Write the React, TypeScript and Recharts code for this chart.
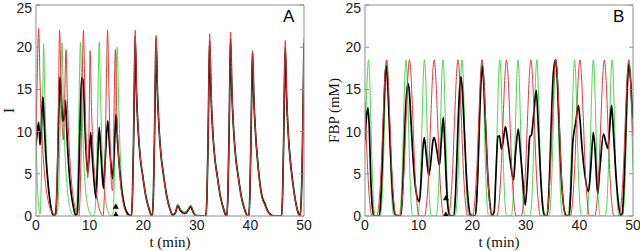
import { ComposedChart, Line, Scatter, XAxis, YAxis } from 'recharts';

type Pt = [number, number];

const T_TICKS = [0, 10, 20, 30, 40, 50];
const Y_TICKS = [0, 5, 10, 15, 20, 25];

// Panel A: I
const aRed: Pt[] = [
  [0, 8], [0.25, 17], [0.5, 22.2], [0.75, 16], [1.0, 11], [1.4, 6.5], [1.9, 3.2], [2.5, 1.2], [3.1, 0.3], [3.6, 0],
  [3.85, 2], [4.05, 8], [4.25, 17], [4.4, 22], [4.65, 16], [4.9, 10.5], [5.1, 9], [5.3, 12.5], [5.6, 19.7], [5.85, 14],
  [6.1, 9.5], [6.5, 5], [7.0, 2], [7.6, 0.4], [8.0, 0],
  [8.2, 2], [8.45, 9], [8.65, 17], [8.85, 22], [9.1, 15.5], [9.4, 8], [9.65, 4.5], [9.8, 6.5], [9.95, 13], [10.1, 19.6],
  [10.35, 13], [10.6, 8.5], [11.0, 4.5], [11.5, 1.8], [12.1, 0.3], [12.5, 0],
  [12.75, 2.5], [12.95, 9], [13.15, 17], [13.36, 22], [13.6, 15], [13.85, 8], [14.1, 3.5], [14.3, 3], [14.45, 7], [14.6, 14],
  [14.8, 19.7], [15.05, 13], [15.3, 8.5], [15.7, 4.5], [16.2, 1.8], [16.8, 0.4], [17.3, 0],
  [17.8, 0], [18.0, 2.5], [18.2, 9], [18.35, 16], [18.5, 22], [18.75, 15], [19.05, 10.5], [19.45, 7], [19.9, 4.8], [20.5, 2.3], [21.1, 0.8], [21.6, 0],
  [21.7, 0], [21.9, 2.5], [22.1, 9], [22.25, 16], [22.4, 21.4], [22.65, 15], [22.95, 10.5], [23.35, 7], [23.8, 4.8], [24.4, 2.3], [25.0, 0.8],
  [25.5, 0.1], [26.0, 0.4], [26.45, 1.3], [27.0, 0.7], [27.8, 0.4], [28.4, 0.8], [28.85, 1.25], [29.3, 0.6], [29.8, 0.05], [31.7, 0],
  [31.9, 2.5], [32.1, 9], [32.25, 16], [32.4, 21.6], [32.65, 15], [32.95, 10.5], [33.35, 7], [33.8, 4.8], [34.4, 2.3], [35.0, 0.8], [35.5, 0],
  [35.6, 0], [35.8, 2.5], [36.0, 9], [36.15, 16], [36.3, 21.8], [36.55, 15], [36.85, 10.5], [37.25, 7], [37.7, 4.8], [38.3, 2.3], [38.9, 0.8], [39.5, 0],
  [39.7, 0], [39.9, 2.5], [40.1, 9], [40.25, 15], [40.4, 19.6], [40.65, 14], [40.95, 10], [41.35, 6.5], [41.8, 3.6], [42.2, 2.1], [42.7, 1.3],
  [43.2, 0.6], [43.8, 0.15], [44.4, 0],
  [45.8, 0], [46.0, 2.5], [46.2, 9], [46.35, 16], [46.5, 20.8], [46.75, 14.5], [47.05, 10], [47.45, 6.5], [47.9, 4], [48.4, 1.8], [48.9, 0.4],
  [49.25, 0], [49.45, 1.5], [49.65, 6], [49.85, 14], [50, 21],
];

const aBlack: Pt[] = [
  [0, 8.4], [0.25, 10], [0.5, 11.1], [0.75, 8.4], [0.95, 10], [1.15, 13], [1.3, 14.1], [1.5, 11.5], [1.8, 7.5], [2.2, 4.2],
  [2.6, 1.8], [3.0, 0.4], [3.4, 0], [3.7, 0.5], [3.95, 4], [4.2, 11], [4.4, 15.5], [4.5, 16.5], [4.7, 14.5], [5.0, 11.2],
  [5.2, 11.5], [5.5, 13.7], [5.75, 10], [6.1, 6], [6.5, 3], [7.0, 1], [7.4, 0.1], [7.7, 0.3], [7.95, 4], [8.2, 10.5],
  [8.45, 15.5], [8.6, 16.4], [8.85, 15.8], [9.1, 11], [9.4, 7], [9.65, 5.1], [9.9, 7], [10.2, 9.9], [10.5, 7], [10.85, 4],
  [11.2, 2.1], [11.45, 5.5], [11.8, 10.5], [12.1, 7.5], [12.4, 4.5], [12.6, 3.3], [12.9, 6.5], [13.4, 11.3], [13.7, 8.5],
  [14.0, 6], [14.3, 4.4], [14.6, 8], [14.95, 12], [15.2, 9], [15.6, 5.5], [16.0, 3], [16.5, 1.2], [17.1, 0.3], [17.6, 0.05],
  [17.8, 0], [18.0, 2.4], [18.2, 8.7], [18.35, 15.5], [18.5, 21.3], [18.75, 14.6], [19.05, 10.3], [19.45, 6.9], [19.9, 4.8], [20.5, 2.3], [21.1, 0.8], [21.6, 0],
  [21.7, 0], [21.9, 2.4], [22.1, 8.9], [22.25, 15.8], [22.4, 21.1], [22.65, 14.8], [22.95, 10.4], [23.35, 7], [23.8, 4.8], [24.4, 2.3], [25.0, 0.8],
  [25.5, 0.1], [26.0, 0.35], [26.45, 1.2], [27.0, 0.6], [27.8, 0.3], [28.4, 0.7], [28.85, 1.1], [29.3, 0.5], [29.8, 0.05], [31.7, 0],
  [31.9, 2.4], [32.1, 8.7], [32.25, 15.4], [32.4, 20.8], [32.65, 14.6], [32.95, 10.3], [33.35, 6.9], [33.8, 4.8], [34.4, 2.3], [35.0, 0.8], [35.5, 0],
  [35.6, 0], [35.8, 2.4], [36.0, 8.8], [36.15, 15.6], [36.3, 21], [36.55, 14.7], [36.85, 10.4], [37.25, 7], [37.7, 4.8], [38.3, 2.3], [38.9, 0.8], [39.5, 0],
  [39.7, 0], [39.9, 2.4], [40.1, 8.8], [40.25, 14.8], [40.4, 19.3], [40.65, 13.8], [40.95, 9.9], [41.35, 6.5], [41.8, 3.7], [42.2, 2.2], [42.7, 1.4],
  [43.2, 0.6], [43.8, 0.15], [44.4, 0],
  [45.8, 0], [46.0, 2.4], [46.2, 8.7], [46.35, 15.4], [46.5, 20], [46.75, 14.2], [47.05, 9.9], [47.45, 6.5], [47.9, 4], [48.4, 1.8], [48.9, 0.4],
  [49.25, 0], [49.45, 1.4], [49.65, 5.8], [49.85, 13.5], [50, 20.5],
];

const aGreen: Pt[] = [
  [0, 10], [0.2, 5], [0.45, 1.6], [0.75, 0.2], [0.95, 3], [1.15, 10], [1.3, 16], [1.42, 20.4], [1.65, 14], [1.9, 8.5],
  [2.2, 4.5], [2.6, 1.8], [3.1, 0.4], [3.6, 0.05],
  [4.0, 0.4], [4.25, 3.5], [4.45, 9], [4.65, 16], [4.85, 20.5], [5.1, 14], [5.35, 8.5], [5.7, 4.3], [6.1, 1.8], [6.6, 0.4], [7.1, 0],
  [7.5, 0.5], [7.75, 4], [7.95, 10], [8.1, 16], [8.3, 20.6], [8.55, 14], [8.8, 8.5], [9.1, 4.3], [9.5, 1.8], [10.0, 0.4], [10.6, 0],
  [11.0, 0.5], [11.25, 4], [11.45, 10], [11.6, 16], [11.8, 20.6], [12.05, 14], [12.3, 8.5], [12.6, 4.3], [13.0, 1.8], [13.5, 0.4], [14.0, 0],
  [14.4, 0.5], [14.6, 4], [14.8, 11], [14.95, 16], [15.15, 20], [15.4, 14], [15.65, 8.5], [15.95, 4.3], [16.35, 1.8], [16.8, 0.4], [17.3, 0],
  [17.8, 0], [18.0, 2.6], [18.2, 8.8], [18.35, 15.2], [18.5, 20.4], [18.75, 14.5], [19.05, 10.4], [19.45, 7.1], [19.9, 5], [20.5, 2.6], [21.1, 1], [21.6, 0.1],
  [21.7, 0], [21.9, 2.6], [22.1, 9], [22.25, 15.6], [22.4, 20.8], [22.65, 14.8], [22.95, 10.6], [23.35, 7.2], [23.8, 5], [24.4, 2.6], [25.0, 1],
  [25.5, 0.2], [26.0, 0.5], [26.45, 1.45], [27.0, 0.8], [27.8, 0.5], [28.4, 0.9], [28.85, 1.3], [29.3, 0.7], [29.8, 0.1], [31.7, 0],
  [31.9, 2.6], [32.1, 8.8], [32.25, 15], [32.4, 20], [32.65, 14.5], [32.95, 10.4], [33.35, 7.1], [33.8, 5], [34.4, 2.6], [35.0, 1], [35.5, 0.1],
  [35.6, 0], [35.8, 2.6], [36.0, 8.9], [36.15, 15.4], [36.3, 20.6], [36.55, 14.7], [36.85, 10.5], [37.25, 7.2], [37.7, 5], [38.3, 2.6], [38.9, 1], [39.5, 0.1],
  [39.7, 0], [39.9, 2.6], [40.1, 8.9], [40.25, 14.8], [40.4, 19.4], [40.65, 14], [40.95, 10.1], [41.35, 6.8], [41.8, 4], [42.2, 2.5], [42.7, 1.7],
  [43.2, 0.8], [43.8, 0.25], [44.4, 0],
  [45.8, 0], [46.0, 2.6], [46.2, 8.8], [46.35, 15], [46.5, 19.3], [46.75, 14.2], [47.05, 10.1], [47.45, 6.8], [47.9, 4.3], [48.4, 2], [48.9, 0.5],
  [49.25, 0], [49.45, 1.5], [49.65, 5.6], [49.85, 13], [50, 19.8],
];

// Panel B: FBP (mM)
const bRed: Pt[] = [
  [0, 13.5], [0.5, 5.5], [0.9, 1.5], [1.3, 0], [2.2, 0],
  [2.6, 1.5], [3.0, 5.5], [3.4, 12], [3.7, 16.5], [4.0, 18.5], [4.3, 16.5], [4.6, 12], [5.0, 5.5], [5.4, 1.5], [5.8, 0],
  [6.5, 0], [6.9, 1.5], [7.3, 5.5], [7.7, 12], [8.0, 16.5], [8.3, 18.5], [8.6, 16.5], [8.9, 12], [9.3, 5.5], [9.7, 1.5], [10.1, 0],
  [11.1, 0], [11.5, 1.5], [11.9, 5.5], [12.3, 12], [12.6, 16.5], [12.9, 18.5], [13.2, 16.5], [13.5, 12], [13.9, 5.5], [14.3, 1.5], [14.7, 0],
  [15.55, 0], [15.95, 1.5], [16.35, 5.5], [16.75, 12], [17.05, 16.5], [17.35, 18.5], [17.65, 16.5], [17.95, 12], [18.35, 5.5], [18.75, 1.5], [19.15, 0],
  [20.05, 0], [20.45, 1.5], [20.85, 5.5], [21.25, 12], [21.55, 16.5], [21.85, 18.5], [22.15, 16.5], [22.45, 12], [22.85, 5.5], [23.25, 1.5], [23.65, 0],
  [24.6, 0], [25.0, 1.5], [25.4, 5.5], [25.8, 12], [26.1, 16.5], [26.4, 18.5], [26.7, 16.5], [27.0, 12], [27.4, 5.5], [27.8, 1.5], [28.2, 0],
  [29.15, 0], [29.55, 1.5], [29.95, 5.5], [30.35, 12], [30.65, 16.5], [30.95, 18.5], [31.25, 16.5], [31.55, 12], [31.95, 5.5], [32.35, 1.5], [32.75, 0],
  [33.8, 0], [34.2, 1.5], [34.6, 5.5], [35.0, 12], [35.3, 16.5], [35.6, 18.5], [35.9, 16.5], [36.2, 12], [36.6, 5.5], [37.0, 1.5], [37.4, 0],
  [38.3, 0], [38.7, 1.5], [39.1, 5.5], [39.5, 12], [39.8, 16.5], [40.1, 18.5], [40.4, 16.5], [40.7, 12], [41.1, 5.5], [41.5, 1.5], [41.9, 0],
  [42.85, 0], [43.25, 1.5], [43.65, 5.5], [44.05, 12], [44.35, 16.5], [44.65, 18.5], [44.95, 16.5], [45.25, 12], [45.65, 5.5], [46.05, 1.5], [46.45, 0],
  [47.4, 0], [47.8, 1.5], [48.2, 5.5], [48.6, 12], [48.9, 16.5], [49.2, 18.5], [49.5, 16.5], [49.8, 12], [50, 9.5],
];

const bGreen: Pt[] = [
  [0, 8.5], [0.25, 13.5], [0.45, 16.8], [0.65, 18.5], [0.85, 16.8], [1.05, 12.5], [1.35, 5.5], [1.65, 1.2], [1.95, 0],
  [2.8, 0], [3.1, 1.2], [3.4, 5.5], [3.7, 12.5], [3.9, 16.8], [4.1, 18.5], [4.3, 16.8], [4.5, 12.5], [4.8, 5.5], [5.1, 1.2], [5.4, 0],
  [6.35, 0], [6.65, 1.2], [6.95, 5.5], [7.25, 12.5], [7.45, 16.8], [7.65, 18.5], [7.85, 16.8], [8.05, 12.5], [8.35, 5.5], [8.65, 1.2], [8.95, 0],
  [9.8, 0], [10.1, 1.2], [10.4, 5.5], [10.7, 12.5], [10.9, 16.8], [11.1, 18.5], [11.3, 16.8], [11.5, 12.5], [11.8, 5.5], [12.1, 1.2], [12.4, 0],
  [13.25, 0], [13.55, 1.2], [13.85, 5.5], [14.15, 12.5], [14.35, 16.8], [14.55, 18.5], [14.75, 16.8], [14.95, 12.5], [15.25, 5.5], [15.55, 1.2], [15.85, 0],
  [16.8, 0], [17.1, 1.2], [17.4, 5.5], [17.7, 12.5], [17.9, 16.8], [18.1, 18.5], [18.3, 16.8], [18.5, 12.5], [18.8, 5.5], [19.1, 1.2], [19.4, 0],
  [20.5, 0], [20.8, 1.2], [21.1, 5.5], [21.4, 12.5], [21.6, 16.8], [21.8, 18.5], [22.0, 16.8], [22.2, 12.5], [22.5, 5.5], [22.8, 1.2], [23.1, 0],
  [23.85, 0], [24.15, 1.2], [24.45, 5.5], [24.75, 12.5], [24.95, 16.8], [25.15, 18.5], [25.35, 16.8], [25.55, 12.5], [25.85, 5.5], [26.15, 1.2], [26.45, 0],
  [27.25, 0], [27.55, 1.2], [27.85, 5.5], [28.15, 12.5], [28.35, 16.8], [28.55, 18.5], [28.75, 16.8], [28.95, 12.5], [29.25, 5.5], [29.55, 1.2], [29.85, 0],
  [30.75, 0], [31.05, 1.2], [31.35, 5.5], [31.65, 12.5], [31.85, 16.8], [32.05, 18.5], [32.25, 16.8], [32.45, 12.5], [32.75, 5.5], [33.05, 1.2], [33.35, 0],
  [34.3, 0], [34.6, 1.2], [34.9, 5.5], [35.2, 12.5], [35.4, 16.8], [35.6, 18.5], [35.8, 16.8], [36.0, 12.5], [36.3, 5.5], [36.6, 1.2], [36.9, 0],
  [37.8, 0], [38.1, 1.2], [38.4, 5.5], [38.7, 12.5], [38.9, 16.8], [39.1, 18.5], [39.3, 16.8], [39.5, 12.5], [39.8, 5.5], [40.1, 1.2], [40.4, 0],
  [41.3, 0], [41.6, 1.2], [41.9, 5.5], [42.2, 12.5], [42.4, 16.8], [42.6, 18.5], [42.8, 16.8], [43.0, 12.5], [43.3, 5.5], [43.6, 1.2], [43.9, 0],
  [44.8, 0], [45.1, 1.2], [45.4, 5.5], [45.7, 12.5], [45.9, 16.8], [46.1, 18.5], [46.3, 16.8], [46.5, 12.5], [46.8, 5.5], [47.1, 1.2], [47.4, 0],
  [48.0, 0], [48.3, 1.2], [48.6, 5.5], [48.9, 12.5], [49.1, 16.8], [49.3, 18.5], [49.5, 16.8], [49.7, 12.5], [50, 5.5],
];

const bBlack: Pt[] = [
  [0, 9], [0.25, 11.5], [0.55, 12.8], [0.8, 10.5], [1.05, 5], [1.35, 1.2], [1.7, 0], [2.6, 0], [2.9, 1.5], [3.2, 6],
  [3.5, 12], [3.75, 16.5], [3.95, 17.8], [4.2, 16], [4.5, 11.5], [4.9, 5.5], [5.3, 1.5], [5.7, 0.1], [6.6, 0], [6.9, 1.5],
  [7.2, 6], [7.5, 11.5], [7.8, 14.8], [8.05, 15.7], [8.3, 14.5], [8.6, 11], [9.0, 6.5], [9.5, 3], [10.15, 1.7], [10.5, 4.5],
  [10.8, 8], [11.05, 9.3], [11.4, 7.5], [11.9, 4.8], [12.3, 6.5], [12.65, 8.8], [12.9, 9.3], [13.4, 7.8], [13.9, 6.0], [14.2, 8.5],
  [14.6, 11.7], [14.85, 9], [15.1, 5], [15.4, 1.5], [15.8, 0.1], [16.5, 0], [16.8, 1.5], [17.1, 6], [17.4, 11.5], [17.7, 15.5],
  [17.9, 16.5], [18.2, 14.5], [18.5, 10.5], [18.9, 5], [19.3, 1.5], [19.7, 0.1], [20.5, 0], [20.8, 1.5], [21.1, 6], [21.4, 12],
  [21.7, 16.5], [21.9, 17.8], [22.15, 16], [22.45, 11.5], [22.85, 5.5], [23.3, 1.5], [23.7, 0.1], [24.1, 0.5], [24.4, 4.5], [24.8, 9.4],
  [25.1, 9.5], [25.45, 7.9], [25.8, 9], [26.2, 10.6], [26.6, 9], [27.1, 6.5], [27.7, 4.3], [28.1, 7.5], [28.6, 10.3], [29.0, 7.5],
  [29.4, 4.5], [29.9, 1.3], [30.3, 4.5], [30.75, 9.4], [31.05, 9.6], [31.4, 11.5], [31.95, 14.9], [32.3, 11], [32.7, 5.5], [33.1, 1.6],
  [33.5, 0.1], [33.9, 0], [34.2, 1.5], [34.5, 6], [34.8, 12], [35.1, 16.5], [35.4, 18.2], [35.6, 18.5], [35.85, 16.5], [36.15, 12],
  [36.55, 5.5], [37.0, 1.5], [37.5, 0.1], [38.1, 0], [38.4, 3], [38.75, 8.5], [39.0, 10], [39.3, 11], [39.8, 13.1], [40.1, 11.5],
  [40.5, 8], [41.0, 5], [41.7, 2.9], [42.1, 5.5], [42.6, 9.9], [42.95, 7.5], [43.4, 2.6], [43.8, 5.5], [44.5, 9.7], [44.9, 8.8],
  [45.3, 8], [45.6, 10], [46.0, 13.1], [46.3, 10.5], [46.7, 6], [47.2, 2], [47.7, 0.1], [48.0, 0.3], [48.3, 3.5], [48.6, 9],
  [48.9, 15], [49.2, 18], [49.5, 16.5], [49.8, 13.5], [50, 11.5],
];

// triangle markers at the perturbation time
const aMarks: Pt[] = [[14.9, 1.1], [14.9, 0.15]];
const bMarks: Pt[] = [[15.1, 2.1], [15.1, 0.15]];

const FRAME = '#8c8c8c';
const SANS = '"Liberation Sans", Arial, Helvetica, sans-serif';
const SERIF = '"Liberation Serif", "Times New Roman", serif';
const tickStyle = { fontSize: 14, fontFamily: SANS, fill: '#1a1a1a' };

const rows = (pts: Pt[]) => pts.map(([t, v]) => ({ t, v }));

const Tri = (props: any) => {
  const { cx, cy } = props;
  return <polygon points={`${cx},${cy - 3.5} ${cx - 3},${cy + 2} ${cx + 3},${cy + 2}`} fill="#000" />;
};

const blank = () => '';

interface PanelProps {
  red: Pt[];
  green: Pt[];
  black: Pt[];
  marks: Pt[];
  yLabel: string;
  yLabelX: number;
  yWidth: number;
  right: number;
}

const Panel = ({ red, green, black, marks, yLabel, yLabelX, yWidth, right }: PanelProps) => (
  <ComposedChart width={320} height={251} margin={{ top: 5, right, bottom: 0, left: 0 }}>
    <XAxis
      xAxisId={0}
      dataKey="t"
      type="number"
      domain={[0, 50]}
      ticks={T_TICKS}
      allowDataOverflow
      height={35}
      tickLine={false}
      tickSize={0}
      tickMargin={4}
      axisLine={{ stroke: FRAME }}
      tick={tickStyle}
      label={{ value: 't (min)', position: 'insideBottom', offset: 4, style: { fontFamily: SERIF, fontSize: 15, fill: '#111' } }}
    />
    <XAxis xAxisId="bt" type="number" domain={[0, 50]} ticks={T_TICKS} allowDataOverflow mirror axisLine={false}
      tickSize={4} tickLine={{ stroke: FRAME }} tickFormatter={blank} />
    <XAxis xAxisId="top" orientation="top" type="number" domain={[0, 50]} ticks={T_TICKS} allowDataOverflow mirror
      axisLine={{ stroke: FRAME }} tickSize={4} tickLine={{ stroke: FRAME }} tickFormatter={blank} />
    <YAxis
      yAxisId={0}
      type="number"
      domain={[0, 25]}
      ticks={Y_TICKS}
      allowDataOverflow
      width={yWidth}
      tickLine={false}
      tickSize={0}
      tickMargin={4}
      axisLine={{ stroke: FRAME }}
      tick={tickStyle}
      label={{ value: yLabel, angle: -90, position: 'insideLeft', offset: yLabelX, style: { textAnchor: 'middle', fontFamily: SERIF, fontSize: 15, fill: '#111' } }}
    />
    <YAxis yAxisId="lt" type="number" domain={[0, 25]} ticks={Y_TICKS} allowDataOverflow mirror axisLine={false}
      tickSize={4} tickLine={{ stroke: FRAME }} tickFormatter={blank} />
    <YAxis yAxisId="rt" orientation="right" type="number" domain={[0, 25]} ticks={Y_TICKS} allowDataOverflow mirror
      axisLine={{ stroke: FRAME }} tickSize={4} tickLine={{ stroke: FRAME }} tickFormatter={blank} />
    <Line data={rows(green)} dataKey="v" type="monotone" stroke="#4fd64f" strokeWidth={1} dot={false} isAnimationActive={false} />
    <Line data={rows(black)} dataKey="v" type="monotone" stroke="#000" strokeWidth={1.7} dot={false} isAnimationActive={false} />
    <Line data={rows(red)} dataKey="v" type="monotone" stroke="#e0393c" strokeWidth={1} dot={false} isAnimationActive={false} />
    <Scatter data={rows(marks)} dataKey="v" shape={Tri} isAnimationActive={false} />
  </ComposedChart>
);

const tagStyle = { position: 'absolute' as const, top: 8, fontFamily: SANS, fontSize: 17, lineHeight: '17px', color: '#000' };

export default function App() {
  return (
    <div style={{ position: 'absolute', left: 0, top: 0, width: 640, height: 251, background: '#fff' }}>
      <div style={{ position: 'absolute', left: 0, top: 0 }}>
        <Panel red={aRed} green={aGreen} black={aBlack} marks={aMarks} yLabel="I" yLabelX={9} yWidth={36} right={16} />
      </div>
      <div style={{ position: 'absolute', left: 320, top: 0 }}>
        <Panel red={bRed} green={bGreen} black={bBlack} marks={bMarks} yLabel="FBP (mM)" yLabelX={14} yWidth={45} right={7} />
      </div>
      <div style={{ ...tagStyle, left: 283 }}>A</div>
      <div style={{ ...tagStyle, left: 613 }}>B</div>
    </div>
  );
}
